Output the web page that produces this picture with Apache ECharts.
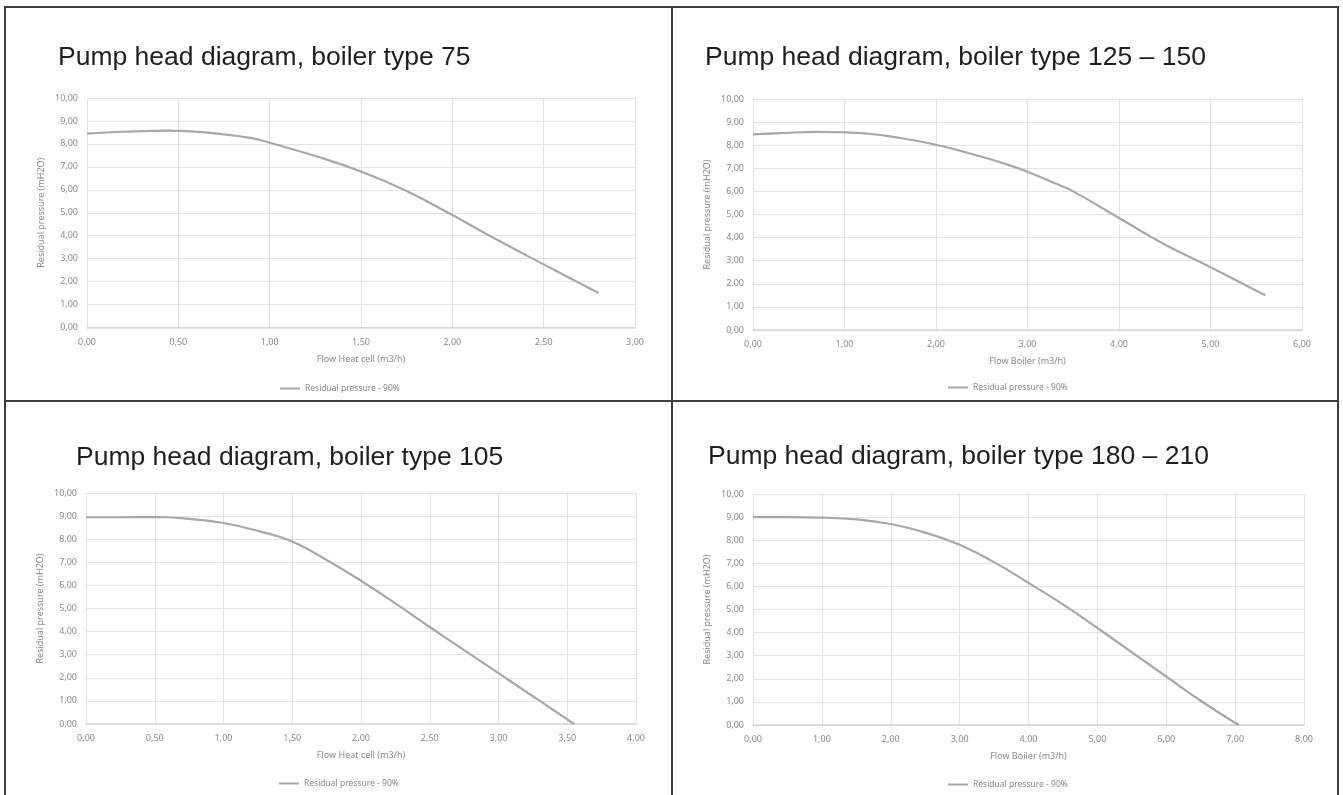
<!DOCTYPE html>
<html>
<head>
<meta charset="utf-8">
<script src="https://cdn.jsdelivr.net/npm/echarts@6/dist/echarts.min.js"></script>
<style>
html,body{margin:0;padding:0;background:#fff;}
#c{width:1343px;height:795px;}
</style>
</head>
<body>
<div id="c"></div>
<script>
// ---- data ----
const titles = [
  'Pump head diagram, boiler type 75',
  'Pump head diagram, boiler type 125 \u2013 150',
  'Pump head diagram, boiler type 105',
  'Pump head diagram, boiler type 180 \u2013 210'
];
const xAxisNames = ['Flow Heat cell (m3/h)', 'Flow Boiler (m3/h)', 'Flow Heat cell (m3/h)', 'Flow Boiler (m3/h)'];
const yAxisName = 'Residual pressure (mH2O)';
const seriesName = 'Residual pressure - 90%';
const xMax = [3, 6, 4, 8];
const xStep = [0.5, 1, 0.5, 1];
const yMax = 10;
const yStep = 1;

const flow75 = [0, 0.2, 0.45, 0.7, 0.9, 1.0, 1.25, 1.5, 1.75, 2.0, 2.25, 2.5, 2.8];
const head75 = [8.45, 8.53, 8.58, 8.46, 8.25, 8.05, 7.47, 6.8, 5.95, 4.9, 3.8, 2.75, 1.5];

const flow125 = [0, 0.3, 0.7, 1.0, 1.25, 1.5, 2.0, 2.5, 2.75, 3.0, 3.3, 3.5, 4.0, 4.5, 5.0, 5.6];
const head125 = [8.47, 8.52, 8.58, 8.56, 8.5, 8.38, 8.02, 7.5, 7.2, 6.85, 6.35, 6.0, 4.85, 3.7, 2.72, 1.5];

const flow105 = [0, 0.25, 0.5, 0.75, 1.0, 1.25, 1.5, 1.75, 2.0, 2.25, 2.5, 2.75, 3.0, 3.25, 3.55];
const head105 = [8.95, 8.95, 8.96, 8.88, 8.7, 8.36, 7.9, 7.1, 6.2, 5.22, 4.2, 3.2, 2.2, 1.2, 0];

const flow180 = [0, 0.5, 1.0, 1.5, 2.0, 2.5, 3.0, 3.5, 4.0, 4.5, 5.0, 5.5, 6.0, 6.5, 7.05];
const head180 = [9.0, 9.0, 8.98, 8.9, 8.7, 8.33, 7.8, 7.05, 6.15, 5.22, 4.2, 3.15, 2.1, 1.05, 0];

const flows = [flow75, flow125, flow105, flow180];
const heads = [head75, head125, head105, head180];

// ---- layout ----
const gridsPos = [
  {left: 87, top: 98, width: 548, height: 229.5},
  {left: 753, top: 99, width: 549, height: 231},
  {left: 86, top: 493, width: 550, height: 231},
  {left: 753, top: 494, width: 551, height: 231}
];
const titlePos = [{left: 58, top: 44}, {left: 705, top: 44}, {left: 76, top: 444}, {left: 708, top: 443}];
const legendPos = [{left: 280, top: 384}, {left: 948, top: 383}, {left: 279, top: 779}, {left: 948, top: 780}];

const labelColor = '#8a8a8a';
const gridColor = '#e3e3e3';
const lineColor = '#a8a8a8';
const fmt = v => v.toFixed(2).replace('.', ',');

const option = {
  animation: false,
  backgroundColor: '#fff',
  title: titles.map((t, i) => ({
    text: t, left: titlePos[i].left, top: titlePos[i].top, padding: 0,
    textStyle: {fontFamily: 'Liberation Sans, Arial', fontSize: 26.5, fontWeight: 'normal', color: '#1e1e1e'}
  })),
  legend: legendPos.map(p => ({
    data: [seriesName], left: p.left, top: p.top, padding: 0,
    icon: 'rect', itemWidth: 20, itemHeight: 2,
    textStyle: {fontFamily: 'Noto Sans', fontSize: 8.5, color: labelColor},
    selectedMode: false
  })),
  grid: gridsPos.map(g => Object.assign({containLabel: false}, g)),
  xAxis: xMax.map((m, i) => ({
    type: 'value', gridIndex: i, min: 0, max: m, interval: xStep[i],
    name: xAxisNames[i], nameLocation: 'middle', nameGap: 27,
    nameTextStyle: {fontFamily: 'Noto Sans', fontSize: 9, color: labelColor},
    axisLine: {show: true, lineStyle: {color: '#d6d6d6', width: 1.5}},
    axisTick: {show: false},
    axisLabel: {formatter: fmt, margin: 10, fontFamily: 'Noto Sans', fontSize: 9, color: labelColor},
    splitLine: {show: true, lineStyle: {color: gridColor, width: 1}}
  })),
  yAxis: xMax.map((m, i) => ({
    type: 'value', gridIndex: i, min: 0, max: yMax, interval: yStep,
    name: yAxisName, nameLocation: 'middle', nameGap: 41,
    nameTextStyle: {fontFamily: 'Noto Sans', fontSize: 9, color: labelColor},
    axisLine: {show: false},
    axisTick: {show: false},
    axisLabel: {formatter: fmt, margin: 9, fontFamily: 'Noto Sans', fontSize: 9, color: labelColor},
    splitLine: {show: true, lineStyle: {color: gridColor, width: 1}}
  })),
  series: flows.map((f, i) => ({
    type: 'line', name: seriesName, xAxisIndex: i, yAxisIndex: i,
    data: f.map((x, k) => [x, heads[i][k]]),
    smooth: 0.45, symbol: 'none',
    lineStyle: {color: lineColor, width: 2.2},
    itemStyle: {color: lineColor}
  })),
  graphic: [
    {type: 'line', shape: {x1: 4, y1: 7, x2: 1339, y2: 7}, style: {stroke: '#3c3c3c', lineWidth: 2}},
    {type: 'line', shape: {x1: 5, y1: 6, x2: 5, y2: 795}, style: {stroke: '#3c3c3c', lineWidth: 2}},
    {type: 'line', shape: {x1: 1338, y1: 6, x2: 1338, y2: 795}, style: {stroke: '#3c3c3c', lineWidth: 2}},
    {type: 'line', shape: {x1: 672, y1: 6, x2: 672, y2: 795}, style: {stroke: '#3c3c3c', lineWidth: 2}},
    {type: 'line', shape: {x1: 4, y1: 401, x2: 1339, y2: 401}, style: {stroke: '#3c3c3c', lineWidth: 2}}
  ]
};

const chart = echarts.init(document.getElementById('c'), null, {renderer: 'canvas'});
chart.setOption(option);
</script>
</body>
</html>
